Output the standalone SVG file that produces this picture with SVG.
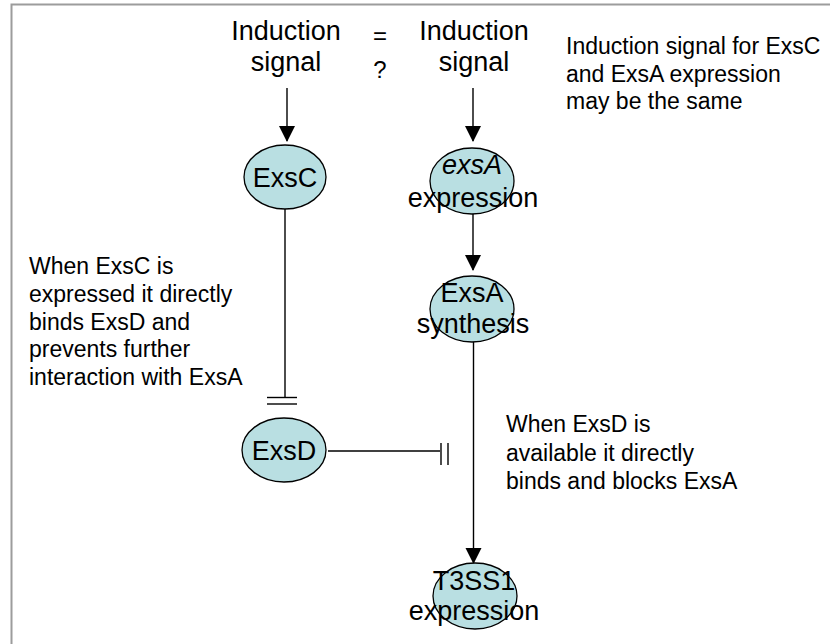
<svg xmlns="http://www.w3.org/2000/svg" width="830" height="644" viewBox="0 0 830 644">
<style>
text{font-family:"Liberation Sans",Arial,sans-serif;fill:#000}
.lbl{font-size:27px;text-anchor:middle}
.note{font-size:23px}
.node ellipse{fill:#b9dfe2;stroke:#000;stroke-width:1.3}
.edge{stroke:#000;stroke-width:1.4;fill:none}
</style>
<defs>
<marker id="arr" markerWidth="16" markerHeight="18" refX="15" refY="8" orient="auto" markerUnits="userSpaceOnUse" viewBox="0 0 16 16">
<path d="M0,0 L16,8 L0,16 Z" fill="#000"/>
</marker>
</defs>
<rect x="0" y="0" width="830" height="644" fill="#fff"/>
<rect x="11.5" y="4.5" width="840" height="660" fill="#fff" stroke="#9c9c9c" stroke-width="2"/>

<g id="signal-left"><text class="lbl" x="286" y="40">Induction</text><text class="lbl" x="286" y="71">signal</text></g>
<g id="signal-right"><text class="lbl" x="474" y="40">Induction</text><text class="lbl" x="474" y="71">signal</text></g>
<g id="equal"><text class="lbl" x="380" y="44" style="font-size:24px">=</text><text class="lbl" x="380" y="78" style="font-size:24px">?</text></g>
<g id="note-top"><text class="note" x="566" y="54">Induction signal for ExsC</text><text class="note" x="566" y="82">and ExsA expression</text><text class="note" x="566" y="109">may be the same</text></g>
<g id="note-left"><text class="note" x="29" y="274">When ExsC is</text><text class="note" x="29" y="301.75">expressed it directly</text><text class="note" x="29" y="329.5">binds ExsD and</text><text class="note" x="29" y="357.25">prevents further</text><text class="note" x="29" y="385">interaction with ExsA</text></g>
<g id="note-right"><text class="note" x="506" y="432">When ExsD is</text><text class="note" x="506" y="461">available it directly</text><text class="note" x="506" y="489">binds and blocks ExsA</text></g>

<g id="connectors">
<line class="edge" x1="287" y1="88" x2="287" y2="141" marker-end="url(#arr)"/>
<line class="edge" x1="473" y1="88" x2="473" y2="141" marker-end="url(#arr)"/>
<line class="edge" x1="473" y1="214" x2="473" y2="270" marker-end="url(#arr)"/>
<line class="edge" x1="473.5" y1="342" x2="473.5" y2="563" marker-end="url(#arr)"/>
<line class="edge" x1="285" y1="209" x2="285" y2="397"/>
<line class="edge" x1="267" y1="397.5" x2="297" y2="397.5"/>
<line class="edge" x1="267" y1="404" x2="297" y2="404"/>
<line class="edge" x1="328" y1="451" x2="440" y2="451"/>
<line class="edge" x1="441" y1="443" x2="441" y2="465"/>
<line class="edge" x1="448" y1="443" x2="448" y2="465"/>
</g>

<g id="node-exsc" class="node"><ellipse cx="285" cy="177" rx="41" ry="32"/><text class="lbl" x="285" y="187">ExsC</text></g>
<g id="node-exsa-expr" class="node"><ellipse cx="472" cy="181" rx="42" ry="33"/><text class="lbl" x="472" y="174" font-style="italic">exsA</text><text class="lbl" x="473" y="207">expression</text></g>
<g id="node-exsa-synth" class="node"><ellipse cx="472" cy="309" rx="42" ry="33"/><text class="lbl" x="472" y="302">ExsA</text><text class="lbl" x="473" y="333">synthesis</text></g>
<g id="node-exsd" class="node"><ellipse cx="284" cy="450" rx="42" ry="32"/><text class="lbl" x="284" y="460">ExsD</text></g>
<g id="node-t3ss1" class="node"><ellipse cx="475" cy="596" rx="42" ry="33"/><text class="lbl" x="474" y="590">T3SS1</text><text class="lbl" x="474" y="620">expression</text></g>
</svg>
